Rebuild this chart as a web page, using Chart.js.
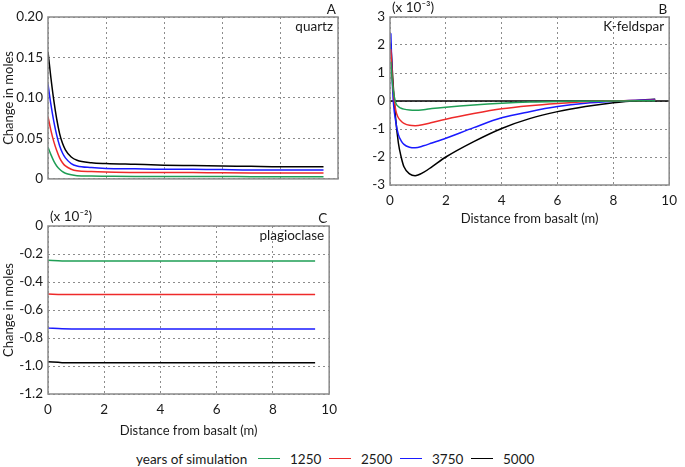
<!DOCTYPE html>
<html>
<head>
<meta charset="utf-8">
<script src="https://cdn.jsdelivr.net/npm/chart.js@4.4.0/dist/chart.umd.min.js"></script>
<style>
  body { margin:0; background:#fff; width:685px; height:467px; position:relative; overflow:hidden; font-family: Lato, sans-serif; color:#1a1a1a; }
  canvas { position:absolute; }
  #legend { position:absolute; left:136px; top:448px; font-size:13.5px; white-space:nowrap; height:18px; line-height:18px; }
  #legend span { display:inline-block; vertical-align:middle; }
  #legend .first { width:122px; }
  #legend .ln { width:22px; height:1.6px; margin-right:10px; }
  #legend .lb { width:39px; }
</style>
</head>
<body>
<canvas id="chartA" width="345" height="192" style="left:0;top:0"></canvas>
<canvas id="chartB" width="340" height="231" style="left:345px;top:0"></canvas>
<canvas id="chartC" width="345" height="243" style="left:0;top:200px"></canvas>
<div id="legend"></div>
<script>
// years of simulation
const years = ['1250', '2500', '3750', '5000'];
const colors = ['#1f9e55', '#ee2a2a', '#1a1aff', '#000000'];

// A - quartz
const xA = [0, 0.1, 0.2, 0.3, 0.4, 0.5, 0.6, 0.8, 1, 1.5, 2, 3, 4, 5, 6, 7, 8, 9, 9.5];
const quartz1250 = [0.039, 0.030, 0.022, 0.016, 0.012, 0.009, 0.007, 0.005, 0.004, 0.0035, 0.0033, 0.003, 0.003, 0.003, 0.003, 0.0028, 0.0028, 0.0028, 0.0028];
const quartz2500 = [0.077, 0.060, 0.046, 0.035, 0.026, 0.020, 0.016, 0.012, 0.010, 0.009, 0.0085, 0.008, 0.008, 0.0078, 0.0075, 0.0073, 0.0072, 0.0072, 0.0072];
const quartz3750 = [0.117, 0.092, 0.071, 0.054, 0.041, 0.032, 0.026, 0.019, 0.016, 0.014, 0.013, 0.0125, 0.012, 0.012, 0.0115, 0.011, 0.011, 0.011, 0.011];
const quartz5000 = [0.157, 0.125, 0.097, 0.074, 0.056, 0.044, 0.036, 0.027, 0.023, 0.020, 0.019, 0.018, 0.017, 0.0165, 0.016, 0.0155, 0.015, 0.015, 0.015];

// B - K-feldspar (x 10^-3)
const xB = [0.03, 0.1, 0.2, 0.3, 0.4, 0.5, 0.7, 0.9, 1.2, 1.5, 2, 3, 4, 5, 6, 7, 8, 9, 9.5];
const kfs1250 = [1.4, 0.5, -0.05, -0.2, -0.26, -0.29, -0.32, -0.33, -0.31, -0.27, -0.22, -0.14, -0.08, -0.04, -0.02, -0.01, 0, 0.01, 0.01];
const kfs2500 = [1.85, 0.6, -0.3, -0.6, -0.72, -0.8, -0.87, -0.88, -0.84, -0.77, -0.65, -0.45, -0.28, -0.17, -0.09, -0.03, 0, 0.02, 0.03];
const kfs3750 = [2.42, 0.3, -0.7, -1.2, -1.42, -1.55, -1.65, -1.67, -1.6, -1.5, -1.33, -0.95, -0.6, -0.38, -0.2, -0.08, -0.01, 0.04, 0.05];
const kfs5000 = [2.05, 0.8, -0.6, -1.5, -2.0, -2.35, -2.6, -2.67, -2.55, -2.35, -2.0, -1.45, -0.98, -0.63, -0.38, -0.2, -0.06, 0.03, 0.06];

// C - plagioclase (x 10^-2)
const xC = [0, 0.5, 1, 2, 4, 6, 8, 9.5];
const plag1250 = [-0.245, -0.25, -0.25, -0.25, -0.25, -0.25, -0.25, -0.25];
const plag2500 = [-0.485, -0.49, -0.49, -0.49, -0.49, -0.49, -0.49, -0.49];
const plag3750 = [-0.728, -0.734, -0.735, -0.735, -0.735, -0.735, -0.735, -0.735];
const plag5000 = [-0.97, -0.976, -0.977, -0.977, -0.977, -0.977, -0.977, -0.977];

const FONT = 'Lato, "Open Sans", sans-serif';
const GRID = '#8c8c8c';
const TXT = '#1a1a1a';

function series(xs, lists) {
  return lists.map((ys, i) => ({
    label: years[i],
    data: xs.map((x, j) => ({ x: x, y: ys[j] })),
    borderColor: colors[i],
    borderWidth: 1.5,
    pointRadius: 0,
    cubicInterpolationMode: 'monotone',
    fill: false
  }));
}

// frame around the plot + corner texts
const panelText = {
  id: 'panelText',
  afterDatasetsDraw(chart, args, opts) {
    const { ctx, chartArea: a } = chart;
    ctx.save();
    ctx.strokeStyle = '#8a8a8a';
    ctx.lineWidth = 1.5;
    ctx.strokeRect(a.left, a.top, a.right - a.left, a.bottom - a.top);
    ctx.fillStyle = TXT;
    ctx.textBaseline = 'middle';
    ctx.font = '13.5px ' + FONT;
    ctx.textAlign = 'right';
    ctx.fillText(opts.letter, a.right - 2, a.top - 7);
    ctx.fillText(opts.name, a.right - 5, a.top + 10);
    if (opts.factor) {
      ctx.textAlign = 'left';
      ctx.fillText(opts.factor, a.left + 2, a.top - 9);
    }
    ctx.restore();
  }
};

function makeChart(id, datasets, o) {
  return new Chart(document.getElementById(id), {
    type: 'line',
    data: { datasets: datasets },
    plugins: [panelText],
    options: {
      responsive: false,
      animation: false,
      layout: { padding: { top: o.top, right: o.right, left: 0, bottom: 0 } },
      plugins: {
        legend: { display: false },
        tooltip: { enabled: false },
        panelText: { letter: o.letter, name: o.name, factor: o.factor }
      },
      scales: {
        x: {
          type: 'linear', min: 0, max: 10,
          grid: { color: GRID, drawTicks: false, lineWidth: 1 },
          border: { display: false, dash: [2, 3] },
          ticks: { display: o.xTicks, stepSize: 2, padding: 8, color: TXT, font: { family: FONT, size: 13.5 } },
          title: { display: o.xTicks, text: 'Distance from basalt (m)', color: TXT, font: { family: FONT, size: 13 } },
          afterFit(s) { s.height = o.xh; }
        },
        y: {
          min: o.ymin, max: o.ymax,
          grid: { color: GRID, drawTicks: false, lineWidth: 1 },
          border: { display: false, dash: [2, 3] },
          ticks: { stepSize: o.step, padding: 5, color: TXT, font: { family: FONT, size: 13.5 }, callback: o.fmt },
          title: { display: !!o.ytitle, text: o.ytitle, padding: { top: 1, bottom: 0 }, color: TXT, font: { family: FONT, size: 13 } },
          afterFit(s) { s.width = o.yw; }
        }
      }
    }
  });
}

makeChart('chartA', series(xA, [quartz1250, quartz2500, quartz3750, quartz5000]), {
  top: 17, right: 7, yw: 48, xh: 7, xTicks: false,
  ymin: 0, ymax: 0.2, step: 0.05,
  fmt: v => (Math.abs(v) < 1e-9 ? '0' : v.toFixed(2)),
  ytitle: 'Change in moles', letter: 'A', name: 'quartz'
});

const dsB = series(xB, [kfs1250, kfs2500, kfs3750, kfs5000]);
dsB.push({ label: 'zero', data: [{ x: 0, y: 0 }, { x: 10, y: 0 }], borderColor: '#000', borderWidth: 1.5, pointRadius: 0 });
makeChart('chartB', dsB, {
  top: 17, right: 6, yw: 45, xh: 46, xTicks: true,
  ymin: -3, ymax: 3, step: 1,
  fmt: v => String(Math.round(v)),
  ytitle: '', letter: 'B', name: 'K-feldspar', factor: '(x 10⁻³)'
});

makeChart('chartC', series(xC, [plag1250, plag2500, plag3750, plag5000]), {
  top: 26, right: 7, yw: 48, xh: 49, xTicks: true,
  ymin: -1.2, ymax: 0, step: 0.2,
  fmt: v => (Math.abs(v) < 1e-9 ? '0' : v.toFixed(1)),
  ytitle: 'Change in moles', letter: 'C', name: 'plagioclase', factor: '(x 10⁻²)'
});

// legend row
const legend = document.getElementById('legend');
let html = '<span class="first">years of simulation</span>';
years.forEach((y, i) => {
  html += '<span class="ln" style="background:' + colors[i] + '"></span><span class="lb">' + y + '</span>';
});
legend.innerHTML = html;
</script>
</body>
</html>
